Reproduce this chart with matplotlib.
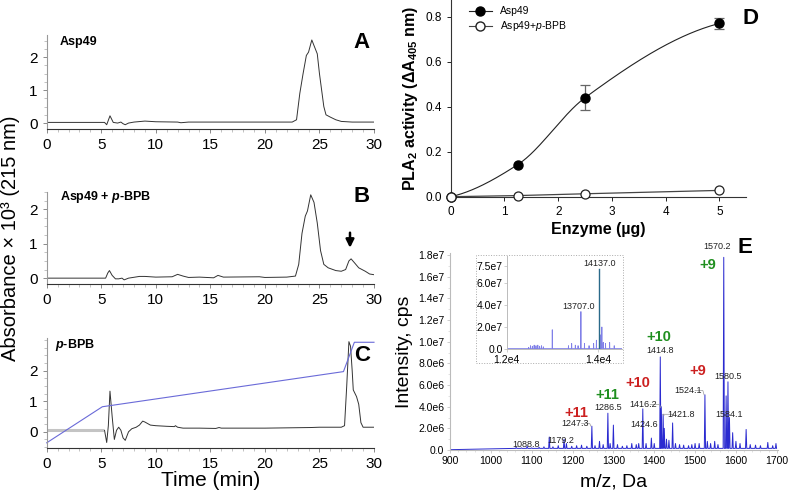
import numpy as np
import matplotlib
matplotlib.use('Agg')
import matplotlib.pyplot as plt
from matplotlib.ticker import MultipleLocator, FixedLocator, FixedFormatter
from matplotlib.lines import Line2D
from matplotlib.patches import Rectangle

plt.rcParams['font.family'] = ['Liberation Sans', 'DejaVu Sans']
plt.rcParams['mathtext.fontset'] = 'custom'
plt.rcParams['mathtext.rm'] = 'Liberation Sans'
plt.rcParams['mathtext.it'] = 'Liberation Sans:italic'
plt.rcParams['mathtext.bf'] = 'Liberation Sans:bold'
if 'mathtext.bfit' in plt.rcParams:
    plt.rcParams['mathtext.bfit'] = 'Liberation Sans:italic:bold'

# --- chromatograms (time in min, absorbance x 10^3) ---
a_time = [0, 5.3, 5.5, 5.8, 6.1, 6.5, 6.8, 7.0, 7.2, 7.5, 8, 9, 10, 12, 12.3, 13, 22.5,
          22.9, 23.2, 23.5, 23.8, 24.0, 24.3, 24.5, 24.8, 25.0, 25.2, 25.4, 25.6, 26.0,
          26.5, 27.0, 28, 30]
a_abs = [0.02, 0.02, -0.05, 0.22, 0.02, 0.0, 0.03, -0.02, -0.05, 0.0, 0.03, 0.06, 0.04,
         0.03, 0.01, 0.03, 0.03, 0.1, 0.9, 1.5, 2.05, 2.15, 2.52, 2.35, 2.1, 1.5, 1.0, 0.5,
         0.25, 0.18, 0.1, 0.05, 0.03, 0.03]

b_time = [0, 5.4, 5.6, 5.75, 6.0, 6.3, 6.6, 6.9, 7.1, 7.5, 8.5, 9, 10, 11.5, 12.0, 12.5,
          13, 14, 15.3, 15.7, 16.2, 19.5, 20, 22, 22.8, 23.1, 23.4, 23.7, 23.9, 24.2, 24.5,
          24.8, 25.1, 25.4, 25.8, 26.5, 27.0, 27.4, 27.7, 27.9, 28.2, 28.6, 29.2, 29.6, 30]
b_abs = [0.0, 0.0, 0.15, 0.22, 0.08, -0.02, -0.02, 0.0, -0.05, 0.0, 0.05, 0.05, 0.03,
         0.04, 0.11, 0.06, 0.02, 0.03, 0.01, 0.08, 0.03, 0.04, 0.02, 0.03, 0.06, 0.4, 1.3,
         1.8, 1.95, 2.42, 2.2, 1.6, 0.8, 0.4, 0.3, 0.22, 0.2, 0.25, 0.5, 0.56, 0.45, 0.3,
         0.2, 0.12, 0.1]

c_time = [0, 5.1, 5.3, 5.5, 5.65, 5.8, 6.0, 6.2, 6.4, 6.6, 6.8, 7.0, 7.2, 7.5, 7.8, 8.2,
          8.5, 8.8, 9.0, 9.5, 10, 11, 11.7, 11.8, 12, 12.5, 14, 15.5, 15.8, 16, 20, 24.2,
          25, 27, 27.3, 27.5, 27.7, 27.85, 28.0, 28.1, 28.4, 28.6, 28.8, 29.0, 30]
c_abs = [0.05, 0.05, 0.05, -0.35, 0.2, 1.33, 0.5, -0.25, 0.05, 0.15, 0.05, -0.2, -0.28,
         0.0, 0.1, 0.15, 0.22, 0.35, 0.32, 0.22, 0.2, 0.18, 0.17, 0.2, 0.15, 0.12, 0.12,
         0.11, 0.14, 0.12, 0.12, 0.14, 0.15, 0.15, 0.2, 1.5, 2.95, 2.8, 2.0, 1.37, 1.15,
         0.9, 0.3, 0.15, 0.15]
grad_time = [0, 5.1, 27.2, 28.2, 30]
grad_val = [-0.36, 0.82, 1.97, 2.93, 2.93]

# --- PLA2 activity ---
enzyme = [0, 1.25, 2.5, 5]
act_asp49 = [0, 0.143, 0.44, 0.77]
err_asp49 = [0, 0, 0.055, 0.025]
act_bpb = [0, 0.005, 0.013, 0.028]

# --- ESI-MS spectrum (m/z, intensity cps) ---
ms_mz = [1050, 1062, 1075, 1088.8, 1100, 1118, 1130, 1143, 1152, 1165, 1179.2, 1185, 1198,
         1210, 1222, 1235, 1247.3, 1255, 1266, 1275, 1286.5, 1292, 1300, 1310, 1322, 1333,
         1345, 1356, 1362, 1372, 1380, 1393, 1400, 1414.8, 1417, 1421.8, 1424.6, 1430, 1436,
         1445, 1452, 1462, 1472, 1484, 1492, 1500, 1510, 1524.1, 1530, 1538, 1548, 1556,
         1570.2, 1576, 1580.5, 1584.1, 1592, 1600, 1610, 1625, 1635, 1648, 1660, 1678, 1690,
         1698]
ms_int = [0.15, 0.25, 0.2, 0.35, 0.2, 0.25, 0.3, 1.2, 0.3, 0.4, 1.0, 0.6, 0.35, 0.4, 0.45,
          0.35, 2.2, 0.4, 0.8, 0.5, 3.4, 0.6, 2.3, 0.5, 0.35, 0.4, 0.6, 0.5, 0.6, 3.8, 0.6,
          1.1, 0.6, 8.6, 4.0, 3.3, 2.0, 1.0, 0.9, 2.5, 0.6, 0.5, 0.45, 0.4, 0.5, 0.6, 0.6,
          5.1, 0.8, 0.6, 0.8, 0.5, 17.8, 5.0, 6.3, 3.0, 1.6, 0.8, 0.6, 1.9, 0.5, 0.45, 0.4,
          0.7, 0.4, 0.6]
ms_int = [v * 1e6 for v in ms_int]

# deconvoluted inset (mass, intensity)
dc_mass = [12480, 12520, 12560, 12600, 12640, 12680, 12720, 12760, 12800, 12996, 13350,
           13420, 13500, 13560, 13622, 13700, 13800, 13900, 13960, 14040, 14080, 14110,
           14160, 14250, 14350]
dc_int = [0.15, 0.3, 0.25, 0.35, 0.3, 0.35, 0.25, 0.3, 0.2, 1.75, 0.3, 0.5, 0.35, 0.3, 3.4,
          0.5, 0.3, 0.5, 0.8, 1.3, 2.0, 0.6, 0.5, 0.6, 0.3]
dc_int = [v * 1e7 for v in dc_int]
dc_main_mass = 14015
dc_main_int = 7.3e7

W, H = 788, 490


def fx(px):
    return px / W


def fy(py):
    return 1 - py / H


def box(l, t, r, b):
    return [fx(l), fy(b), (r - l) / W, (b - t) / H]


def sticks(xs, ys, half, base):
    px, py = [], []
    for x, y in zip(xs, ys):
        px += [x - half, x, x + half]
        py += [base, y, base]
    return px, py


fig = plt.figure(figsize=(7.88, 4.9), dpi=100)


def chrom(rect, ylim):
    ax = fig.add_axes(rect)
    ax.set_xlim(0, 30)
    ax.set_ylim(*ylim)
    for s in ['top', 'right']:
        ax.spines[s].set_visible(False)
    ax.spines['left'].set_color('#999999')
    ax.spines['left'].set_linewidth(0.8)
    ax.spines['bottom'].set_color('#333333')
    ax.spines['bottom'].set_linewidth(0.8)
    ax.xaxis.set_major_locator(MultipleLocator(5))
    ax.xaxis.set_minor_locator(MultipleLocator(1))
    ax.set_yticks([0, 1, 2])
    ax.yaxis.set_minor_locator(MultipleLocator(0.25))
    ax.tick_params(labelsize=11, length=3, width=0.6, color='#777777')
    ax.tick_params(which='minor', length=2, width=0.5, color='#aaaaaa')
    return ax


axA = chrom(box(46.7, 35, 374, 129), (-0.18, 2.67))
axA.plot(a_time, a_abs, color='#333333', lw=0.7)
fig.text(fx(60), fy(42), 'Asp49', fontsize=9, fontweight='bold', va='center')
fig.text(fx(362), fy(43), 'A', fontsize=16, fontweight='bold', ha='center', va='center')

axB = chrom(box(46.7, 191.7, 374, 284), (-0.17, 2.51))
axB.plot(b_time, b_abs, color='#333333', lw=0.7)
fig.text(fx(60), fy(197), r'Asp49 + $\mathbfit{p}$-BPB', fontsize=9,
         fontweight='bold', va='center')
fig.text(fx(362), fy(197), 'B', fontsize=16, fontweight='bold', ha='center', va='center')
axB.annotate('', xy=(27.8, 0.8), xytext=(27.8, 1.4),
             arrowprops=dict(arrowstyle='-|>', color='k', lw=1.8, mutation_scale=12))

axC = chrom(box(46.7, 338.3, 374, 448), (-0.53, 3.06))
c_t = np.array(c_time)
c_a = np.array(c_abs)
inj = c_t <= 5.1
axC.plot(c_t[inj], c_a[inj], color='#c4c4c4', lw=2.2)
axC.plot(c_t[~inj], c_a[~inj], color='#333333', lw=0.7)
axC.plot(grad_time, grad_val, color='#6a6ad8', lw=0.8, clip_on=False)
fig.text(fx(55), fy(345), r'$\mathbfit{p}$-BPB', fontsize=9, fontweight='bold',
         va='center')
fig.text(fx(362), fy(355), 'C', fontsize=16, fontweight='bold', ha='center', va='center')
axC.set_xlabel('Time (min)', fontsize=15, labelpad=0)
fig.text(fx(11), fy(238), 'Absorbance × 10³ (215 nm)', fontsize=14.5, rotation=90,
         ha='center', va='center')


# --- D: PLA2 activity ---
def pchip(x, y, xs):
    # monotone cubic through the measured points (smooth connecting curve)
    x = np.asarray(x, float)
    y = np.asarray(y, float)
    h = np.diff(x)
    dl = np.diff(y) / h
    n = len(x)
    m = np.zeros(n)
    for i in range(1, n - 1):
        if dl[i - 1] * dl[i] > 0:
            w1 = 2 * h[i] + h[i - 1]
            w2 = h[i] + 2 * h[i - 1]
            m[i] = (w1 + w2) / (w1 / dl[i - 1] + w2 / dl[i])
    m[0] = max(((2 * h[0] + h[1]) * dl[0] - h[0] * dl[1]) / (h[0] + h[1]), 0)
    m[-1] = max(((2 * h[-1] + h[-2]) * dl[-1] - h[-1] * dl[-2]) / (h[-1] + h[-2]), 0)
    idx = np.clip(np.searchsorted(x, xs) - 1, 0, n - 2)
    t = (xs - x[idx]) / h[idx]
    h00 = 2 * t ** 3 - 3 * t ** 2 + 1
    h10 = t ** 3 - 2 * t ** 2 + t
    h01 = -2 * t ** 3 + 3 * t ** 2
    h11 = t ** 3 - t ** 2
    return (h00 * y[idx] + h10 * h[idx] * m[idx] + h01 * y[idx + 1]
            + h11 * h[idx] * m[idx + 1])


axD = fig.add_axes(box(450.7, 0, 746.3, 196.7))
axD.set_xlim(0, 5.5)
axD.set_ylim(0, 0.874)
xs = np.linspace(0, 5, 200)
axD.plot(xs, pchip(enzyme, act_asp49, xs), color='#222222', lw=0.8)
axD.errorbar(enzyme[2:], act_asp49[2:], yerr=err_asp49[2:], fmt='none', ecolor='#666666',
             elinewidth=0.9, capsize=3.5, capthick=0.9)
axD.plot(enzyme, act_bpb, color='#444444', lw=0.9)
axD.plot(enzyme, act_asp49, 'o', ms=6.5, mfc='black', mec='black', clip_on=False, zorder=5)
axD.plot(enzyme, act_bpb, 'o', ms=6.5, mfc='white', mec='#222222', mew=0.9, clip_on=False,
         zorder=5)
for s in ['top', 'right']:
    axD.spines[s].set_visible(False)
for s in ['left', 'bottom']:
    axD.spines[s].set_linewidth(0.8)
    axD.spines[s].set_color('#333333')
axD.set_xticks([0, 1, 2, 3, 4, 5])
axD.set_yticks([0, 0.2, 0.4, 0.6, 0.8])
axD.yaxis.set_major_formatter(FixedFormatter(['0.0', '0.2', '0.4', '0.6', '0.8']))
axD.tick_params(labelsize=8.5, length=3, width=0.6)
axD.set_xlabel('Enzyme (µg)', fontsize=11.5, fontweight='bold', labelpad=3)
axD.set_ylabel(r'$\mathbf{PLA_2\ activity\ (\Delta A_{405}\ nm)}$', fontsize=11.5, labelpad=4)
handles = [Line2D([], [], color='#222222', lw=0.8, marker='o', ms=6.5, mfc='black',
                  mec='black'),
           Line2D([], [], color='#444444', lw=0.8, marker='o', ms=6.5, mfc='white',
                  mec='#222222')]
axD.legend(handles, ['Asp49', r'Asp49+$\mathit{p}$-BPB'], loc='upper left',
           bbox_to_anchor=(0.04, 1.0), frameon=False, fontsize=7.5, handlelength=2.2,
           labelspacing=0.3, borderaxespad=0.2)
fig.text(fx(750), fy(18), 'D', fontsize=16, fontweight='bold', ha='center', va='center')

# --- E: ESI-MS spectrum ---
axE = fig.add_axes(box(450, 253, 778, 450))
axE.set_xlim(900, 1703)
axE.set_ylim(0, 1.82e7)
sx, sy = sticks(ms_mz, ms_int, 1.5, 0.15e6)
axE.plot([900] + sx, [0.03e6] + sy, color='#2a2ad0', lw=0.7)
for s in ['top', 'right']:
    axE.spines[s].set_visible(False)
for s in ['left', 'bottom']:
    axE.spines[s].set_color('#bbbbbb')
    axE.spines[s].set_linewidth(0.8)
e_ticks = [i * 2e6 for i in range(10)]
axE.yaxis.set_major_locator(FixedLocator(e_ticks))
axE.yaxis.set_major_formatter(FixedFormatter(
    ['0.0', '2.0e6', '4.0e6', '6.0e6', '8.0e6', '1.0e7', '1.2e7', '1.4e7', '1.6e7', '1.8e7']))
axE.xaxis.set_major_locator(MultipleLocator(100))
axE.xaxis.set_minor_locator(MultipleLocator(20))
axE.yaxis.set_minor_locator(MultipleLocator(1e6))
axE.tick_params(labelsize=7.5, length=2.5, width=0.5, color='#bbbbbb', pad=1.5)
axE.tick_params(which='minor', length=1.5, width=0.4, color='#cccccc')
axE.set_xlabel('m/z, Da', fontsize=14, labelpad=6)
axE.set_ylabel('Intensity, cps', fontsize=14, labelpad=4)

peak_labels = [('1570.2', 1554, 1.88e7), ('1580.5', 1580, 6.8e6), ('1584.1', 1584, 3.3e6),
               ('1524.1', 1484, 5.5e6), ('1421.8', 1466, 3.3e6), ('1416.2', 1373, 4.2e6),
               ('1424.6', 1375, 2.4e6), ('1414.8', 1414, 9.2e6), ('1286.5', 1288, 3.9e6),
               ('1247.3', 1205, 2.45e6), ('1179.2', 1170, 0.92e6), ('1088.8', 1087, 0.53e6)]
for lab, x, y in peak_labels:
    axE.text(x, y, lab, fontsize=6.5, color='#222222', ha='center', va='center',
             clip_on=False)
leaders = [((1500, 5.5e6), (1522, 5.1e6)), ((1390, 4.2e6), (1416, 3.9e6)),
           ((1448, 3.3e6), (1424, 3.2e6)), ((1222, 2.45e6), (1245, 2.2e6))]
for (x0, y0), (x1, y1) in leaders:
    axE.plot([x0, x1 - 3, x1], [y0, y0, y1], color='#999999', lw=0.5)

charges = [('+11', 1209, 3.45e6, '#cc2020'), ('+11', 1286, 5.1e6, '#1f8f1f'),
           ('+10', 1360, 6.15e6, '#cc2020'), ('+10', 1412, 1.04e7, '#1f8f1f'),
           ('+9', 1506, 7.3e6, '#cc2020'), ('+9', 1532, 1.71e7, '#1f8f1f')]
for lab, x, y, col in charges:
    axE.text(x, y, lab, fontsize=10.5, fontweight='bold', color=col, ha='center',
             va='center')
fig.text(fx(745), fy(247), 'E', fontsize=16, fontweight='bold', ha='center', va='center')

# inset
fig.patches.append(Rectangle((fx(476), fy(363)), (623 - 476) / W, (363 - 255) / H,
                             transform=fig.transFigure, fill=False, ls=':', lw=0.7,
                             ec='#aaaaaa'))
axI = fig.add_axes(box(506.7, 256, 622, 349))
axI.set_xlim(12000, 14520)
axI.set_ylim(0, 8.45e7)
ix, iy = sticks(dc_mass, dc_int, 4, 0.05e7)
axI.plot([12000] + ix + [14520], [0.05e7] + iy + [0.05e7], color='#8080e8', lw=0.6)
axI.plot([dc_main_mass] * 2, [0, dc_main_int], color='#2a6a8a', lw=1.0)
for s in ['top', 'right']:
    axI.spines[s].set_visible(False)
for s in ['left', 'bottom']:
    axI.spines[s].set_color('#bbbbbb')
    axI.spines[s].set_linewidth(0.7)
axI.set_yticks([0, 2e7, 4e7, 6e7, 7.5e7])
axI.yaxis.set_major_formatter(FixedFormatter(['0.0', '2.0e7', '4.0e7', '6.0e7', '7.5e7']))
axI.set_xticks([12000, 14000])
axI.xaxis.set_major_formatter(FixedFormatter(['1.2e4', '1.4e4']))
axI.tick_params(labelsize=7.5, length=2, width=0.5, color='#bbbbbb', pad=1)
axI.tick_params(axis='x', pad=2.5)
axI.text(14020, 7.8e7, '14137.0', fontsize=6.5, color='#222222', ha='center', va='center')
axI.text(13565, 3.9e7, '13707.0', fontsize=6.5, color='#222222', ha='center', va='center')

fig.savefig('out.png', dpi=100)
